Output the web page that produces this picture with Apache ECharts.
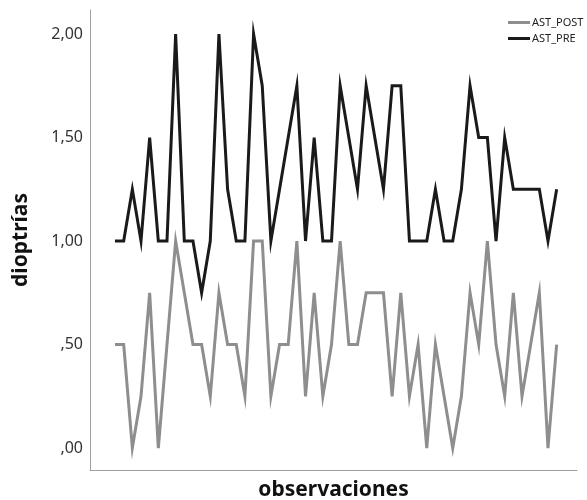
<!DOCTYPE html>
<html>
<head>
<meta charset="utf-8">
<script src="https://cdn.jsdelivr.net/npm/echarts@6/dist/echarts.min.js"></script>
<style>html,body{margin:0;padding:0;background:#fff}#c{width:587px;height:500px}</style>
</head>
<body>
<div id="c"></div>
<script>
var seriesNames = ['AST_POST', 'AST_PRE'];
var astPost = [0.5,0.5,0,0.25,0.75,0,0.5,1,0.75,0.5,0.5,0.25,0.75,0.5,0.5,0.25,1,1,0.25,0.5,0.5,1,0.25,0.75,0.25,0.5,1,0.5,0.5,0.75,0.75,0.75,0.25,0.75,0.25,0.5,0,0.5,0.25,0,0.25,0.75,0.5,1,0.5,0.25,0.75,0.25,0.5,0.75,0,0.5];
var astPre = [1,1,1.25,1,1.5,1,1,2,1,1,0.75,1,2,1.25,1,1,2,1.75,1,1.25,1.5,1.75,1,1.5,1,1,1.75,1.5,1.25,1.75,1.5,1.25,1.75,1.75,1,1,1,1.25,1,1,1.25,1.75,1.5,1.5,1,1.5,1.25,1.25,1.25,1.25,1,1.25];
var tickValues = [0, 0.5, 1, 1.5, 2];
var tickLabels = [',00', ',50', '1,00', '1,50', '2,00'];
var yTitle = 'dioptrías';
var xTitle = 'observaciones';

function pairs(arr){ return arr.map(function(v,i){ return [i, v]; }); }

var chart = echarts.init(document.getElementById('c'));
chart.setOption({
  animation: false,
  backgroundColor: '#fff',
  textStyle: { fontFamily: 'Noto Sans' },
  grid: { left: 90, right: 10, top: 10, bottom: 30, outerBoundsMode: 'none', containLabel: false },
  legend: {
    orient: 'vertical',
    left: 503,
    top: 12,
    itemWidth: 22,
    itemHeight: 3,
    itemGap: 5,
    icon: 'rect',
    textStyle: { fontSize: 11, color: '#222', padding: [0,0,0,-3] },
    data: seriesNames
  },
  xAxis: {
    type: 'value',
    min: -2.89,
    max: 53.35,
    name: xTitle,
    nameLocation: 'middle',
    nameGap: 10,
    nameTextStyle: { fontSize: 21, fontWeight: 'bold', color: '#111', verticalAlign: 'top' },
    axisLine: { show: true, onZero: false, lineStyle: { color: '#a0a0a0', width: 1 } },
    axisTick: { show: false },
    axisLabel: { show: false },
    splitLine: { show: false }
  },
  yAxis: {
    type: 'value',
    min: -0.106,
    max: 2.116,
    name: yTitle,
    nameLocation: 'middle',
    nameGap: 58,
    nameRotate: 90,
    nameTextStyle: { fontSize: 21, fontWeight: 'bold', color: '#111' },
    axisLine: { show: true, onZero: false, lineStyle: { color: '#a0a0a0', width: 1 } },
    axisTick: { show: false },
    axisLabel: {
      customValues: tickValues,
      fontSize: 16,
      color: '#333',
      margin: 7,
      formatter: function(v){
        var idx = tickValues.indexOf(Math.round(v*100)/100);
        return idx >= 0 ? tickLabels[idx] : '';
      }
    },
    splitLine: { show: false }
  },
  series: [
    {
      name: seriesNames[0], type: 'line', data: pairs(astPost),
      symbol: 'none', color: '#8e8e8e',
      lineStyle: { width: 3, color: '#8e8e8e', join: 'miter' }
    },
    {
      name: seriesNames[1], type: 'line', data: pairs(astPre),
      symbol: 'none', color: '#1a1a1a',
      lineStyle: { width: 3, color: '#1a1a1a', join: 'miter' }
    }
  ]
});
</script>
</body>
</html>
